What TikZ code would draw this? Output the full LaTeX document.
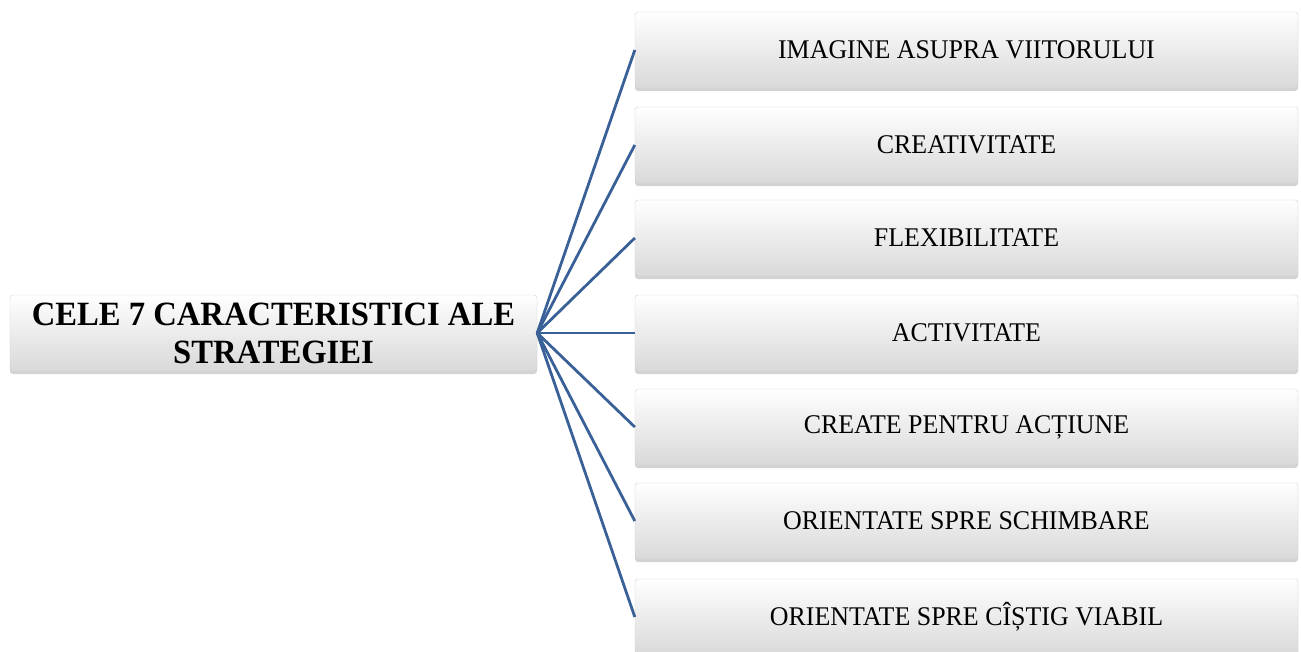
\documentclass[tikz,border=0pt]{standalone}
\usepackage{fontspec}
\setmainfont{Liberation Serif}
\newfontfamily\boxfont[FakeStretch=0.96]{Liberation Serif}
\usepackage{tikz}
\usetikzlibrary{shadows}
\definecolor{linkblue}{RGB}{58,96,152}
\tikzset{
  cbox/.style={rectangle, rounded corners=3pt, draw=gray!35, top color=white, bottom color=gray!30,
    drop shadow={opacity=0.35, shadow xshift=0pt, shadow yshift=-3pt}, inner sep=0pt, align=center},
  mainbox/.style={cbox, minimum width=527pt, minimum height=76pt, font=\boxfont\bfseries\fontsize{34}{38}\selectfont},
  itembox/.style={cbox, minimum width=663pt, minimum height=76pt, font=\boxfont\fontsize{27}{30}\selectfont},
  link/.style={linkblue, line width=2.8pt}
}
\begin{document}
\begin{tikzpicture}[x=1pt, y=-1pt]
    \useasboundingbox (0,0) rectangle (1301,651);
    \node[mainbox] (main) at (273.5,333) {CELE 7 CARACTERISTICI ALE\\ STRATEGIEI};
    \node[itembox] (b1) at (966.5, 50) {IMAGINE ASUPRA VIITORULUI};
    \node[itembox] (b2) at (966.5,145) {CREATIVITATE};
    \node[itembox] (b3) at (966.5,238) {FLEXIBILITATE};
    \node[itembox] (b4) at (966.5,333) {ACTIVITATE};
    \node[itembox] (b5) at (966.5,427) {CREATE PENTRU ACȚIUNE};
    \node[itembox] (b6) at (966.5,521) {ORIENTATE SPRE SCHIMBARE};
    \node[itembox] (b7) at (966.5,617) {ORIENTATE SPRE CÎȘTIG VIABIL};
    \draw[link] (main.east) -- (b1.west);
    \draw[link] (main.east) -- (b2.west);
    \draw[link] (main.east) -- (b3.west);
    \draw[link] (main.east) -- (b4.west);
    \draw[link] (main.east) -- (b5.west);
    \draw[link] (main.east) -- (b6.west);
    \draw[link] (main.east) -- (b7.west);
\end{tikzpicture}
\end{document}
